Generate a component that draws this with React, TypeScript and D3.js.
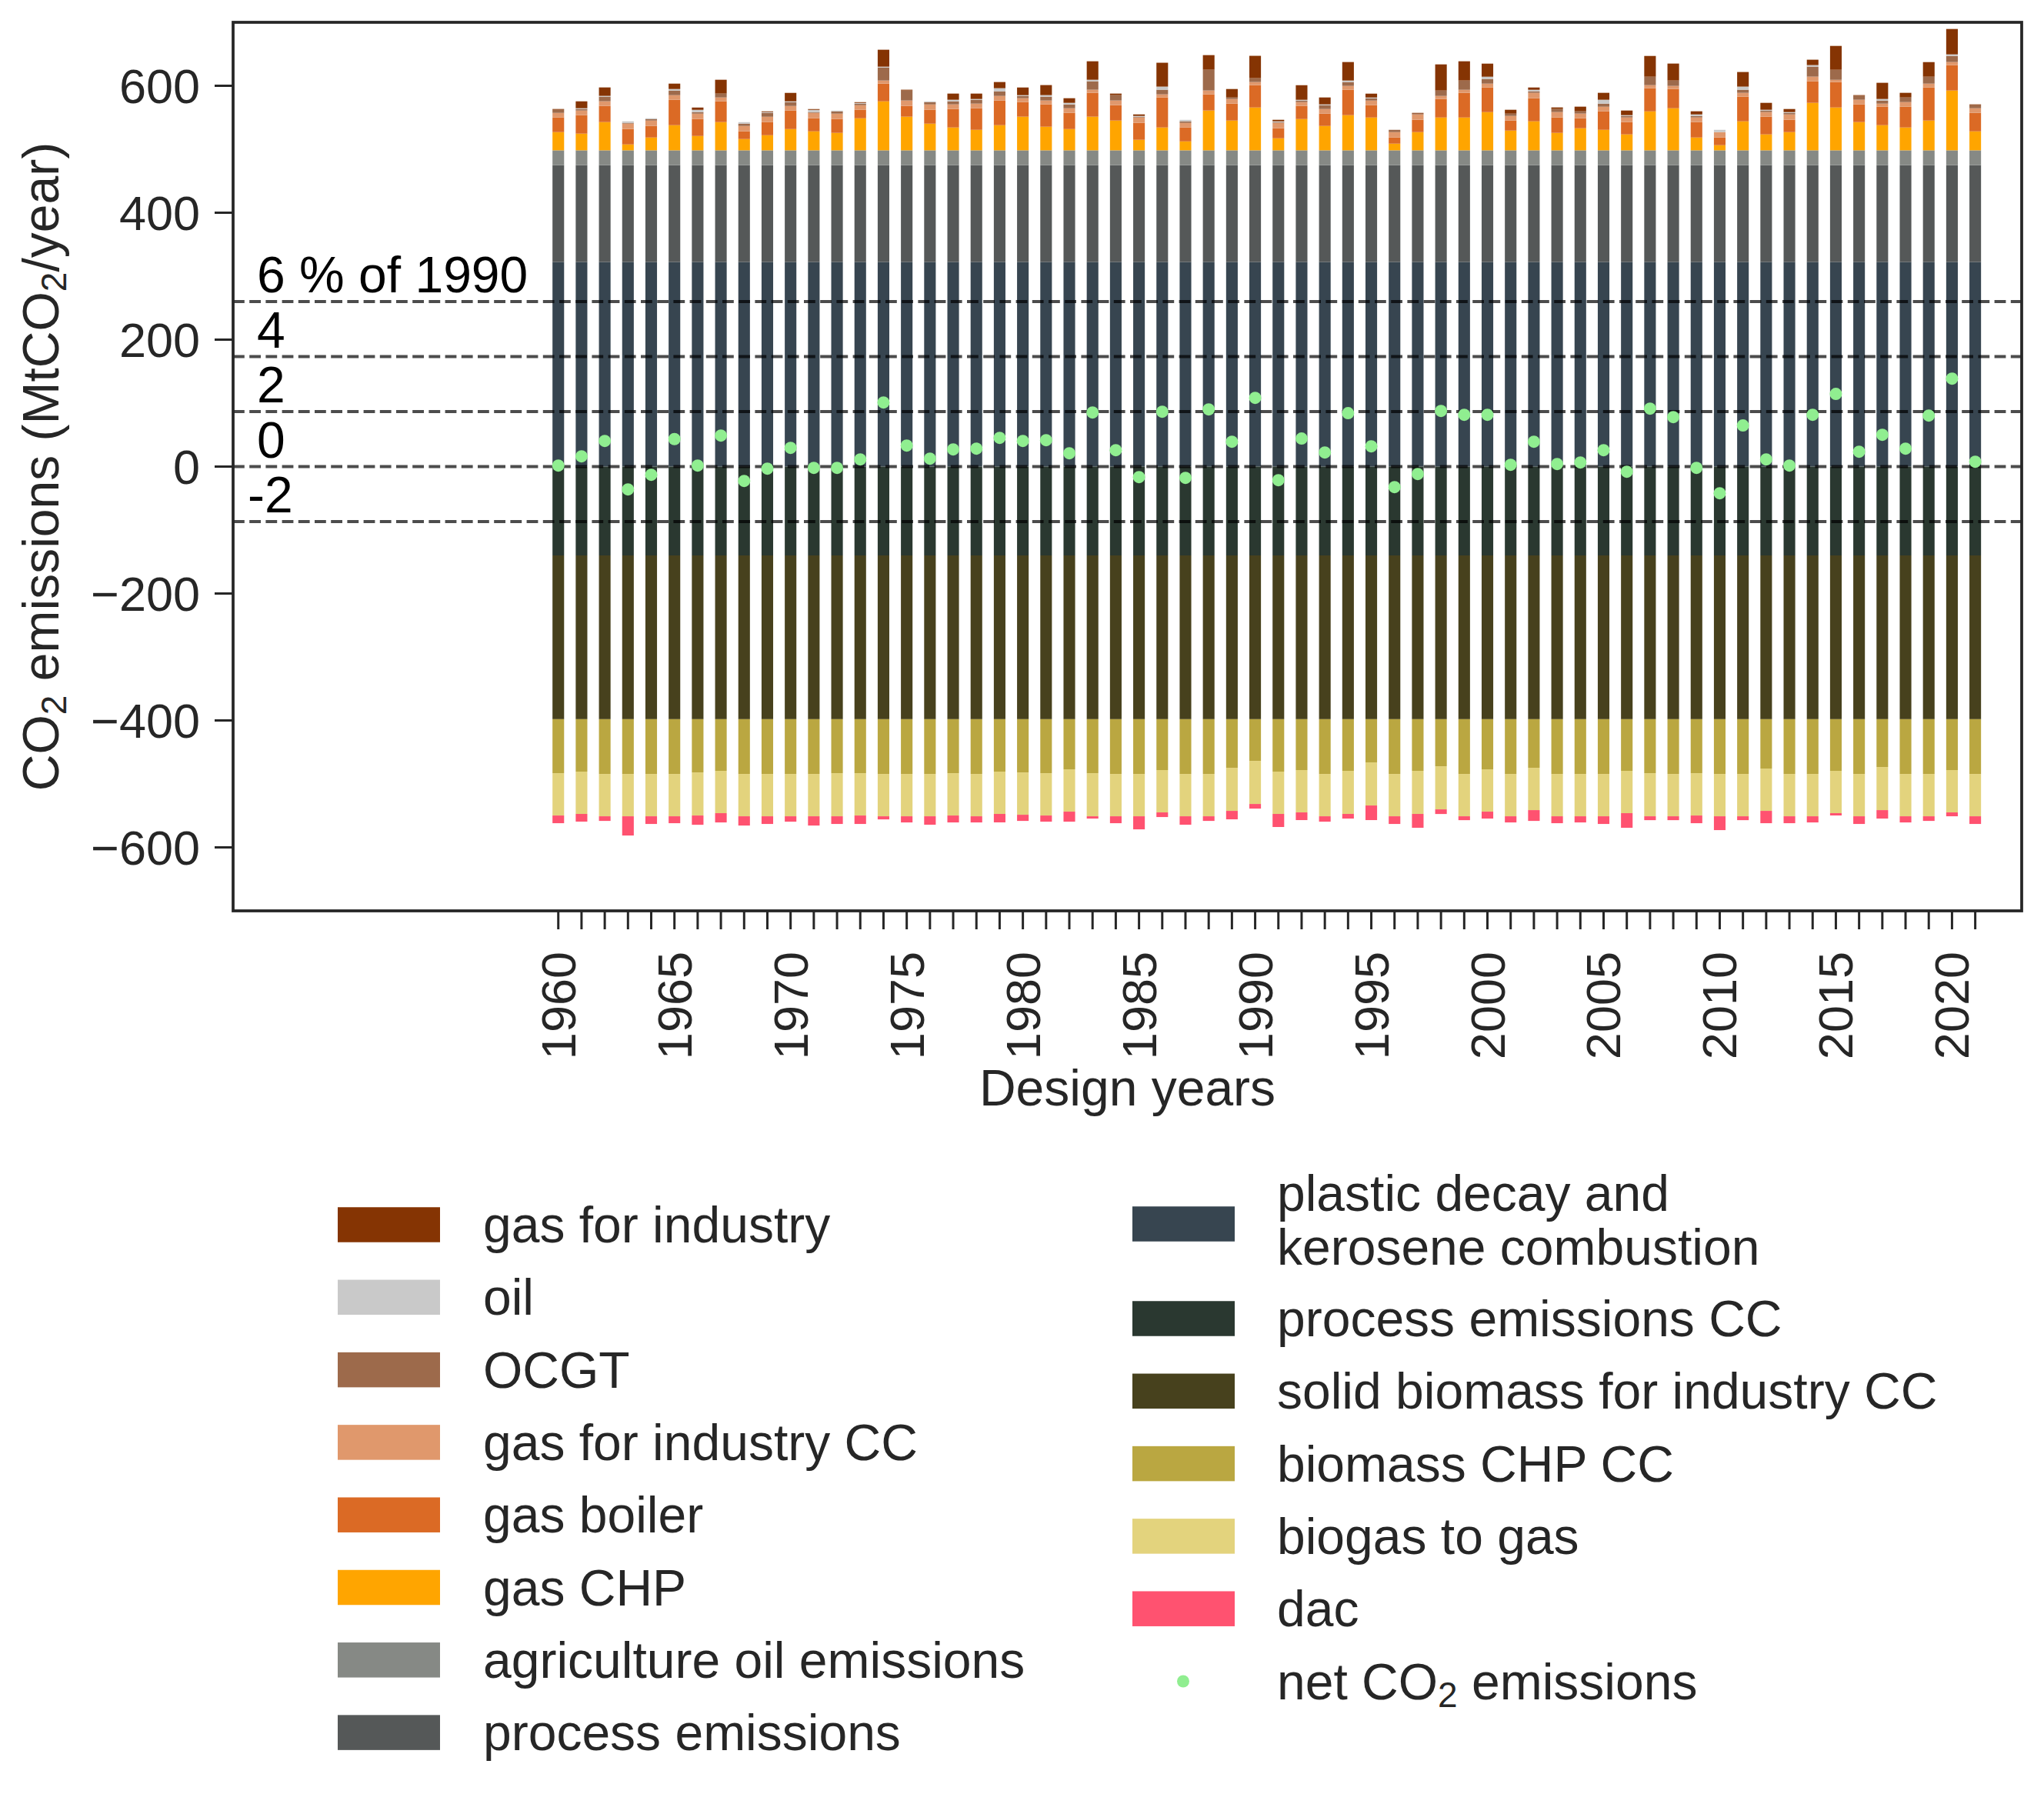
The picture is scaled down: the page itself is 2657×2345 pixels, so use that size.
import React from 'react';
import * as d3 from 'd3';

// ---------- data ----------
const years = [
  1960, 1961, 1962, 1963, 1964, 1965, 1966, 1967, 1968, 1969,
  1970, 1971, 1972, 1973, 1974, 1975, 1976, 1977, 1978, 1979,
  1980, 1981, 1982, 1983, 1984, 1985, 1986, 1987, 1988, 1989,
  1990, 1991, 1992, 1993, 1994, 1995, 1996, 1997, 1998, 1999,
  2000, 2001, 2002, 2003, 2004, 2005, 2006, 2007, 2008, 2009,
  2010, 2011, 2012, 2013, 2014, 2015, 2016, 2017, 2018, 2019,
  2020, 2021,
];

const plasticDecay = [
  322.5, 322.5, 322.5, 322.5, 322.5, 322.5, 322.5, 322.5, 322.5, 322.5,
  322.5, 322.5, 322.5, 322.5, 322.5, 322.5, 322.5, 322.5, 322.5, 322.5,
  322.5, 322.5, 322.5, 322.5, 322.5, 322.5, 322.5, 322.5, 322.5, 322.5,
  322.5, 322.5, 322.5, 322.5, 322.5, 322.5, 322.5, 322.5, 322.5, 322.5,
  322.5, 322.5, 322.5, 322.5, 322.5, 322.5, 322.5, 322.5, 322.5, 322.5,
  322.5, 322.5, 322.5, 322.5, 322.5, 322.5, 322.5, 322.5, 322.5, 322.5,
  322.5, 322.5,
];
const processEmissions = [
  152.5, 152.5, 152.5, 152.5, 152.5, 152.5, 152.5, 152.5, 152.5, 152.5,
  152.5, 152.5, 152.5, 152.5, 152.5, 152.5, 152.5, 152.5, 152.5, 152.5,
  152.5, 152.5, 152.5, 152.5, 152.5, 152.5, 152.5, 152.5, 152.5, 152.5,
  152.5, 152.5, 152.5, 152.5, 152.5, 152.5, 152.5, 152.5, 152.5, 152.5,
  152.5, 152.5, 152.5, 152.5, 152.5, 152.5, 152.5, 152.5, 152.5, 152.5,
  152.5, 152.5, 152.5, 152.5, 152.5, 152.5, 152.5, 152.5, 152.5, 152.5,
  152.5, 152.5,
];
const agricultureOil = [
  23.3, 23.3, 23.3, 23.3, 23.3, 23.3, 23.3, 23.3, 23.3, 23.3,
  23.3, 23.3, 23.3, 23.3, 23.3, 23.3, 23.3, 23.3, 23.3, 23.3,
  23.3, 23.3, 23.3, 23.3, 23.3, 23.3, 23.3, 23.3, 23.3, 23.3,
  23.3, 23.3, 23.3, 23.3, 23.3, 23.3, 23.3, 23.3, 23.3, 23.3,
  23.3, 23.3, 23.3, 23.3, 23.3, 23.3, 23.3, 23.3, 23.3, 23.3,
  23.3, 23.3, 23.3, 23.3, 23.3, 23.3, 23.3, 23.3, 23.3, 23.3,
  23.3, 23.3,
];
const gasCHP = [
  28.7, 26.3, 44.5, 9.3, 20.2, 39.6, 22.6, 44.5, 17.8, 23.8,
  33.5, 29.9, 27.5, 50.5, 77.2, 53.0, 42.0, 36.0, 32.3, 39.6,
  53.0, 37.2, 33.5, 53.0, 46.9, 16.6, 36.0, 14.1, 62.7, 46.9,
  67.5, 19.0, 49.3, 38.4, 55.4, 51.7, 10.5, 28.7, 51.7, 51.7,
  60.2, 31.1, 45.7, 27.5, 34.8, 32.3, 25.1, 61.4, 66.3, 20.2,
  8.1, 45.7, 25.1, 28.7, 74.8, 67.5, 44.5, 39.6, 36.0, 46.9,
  94.2, 29.9,
];
const gasBoiler = [
  23.0, 29.1, 25.5, 24.3, 18.2, 40.0, 26.7, 32.7, 12.1, 20.6,
  29.1, 20.6, 21.8, 13.3, 27.9, 17.0, 21.8, 29.1, 34.0, 38.8,
  23.0, 35.2, 25.5, 37.6, 24.3, 26.7, 47.3, 21.8, 25.5, 26.7,
  35.2, 15.8, 20.6, 19.4, 40.0, 19.4, 9.7, 19.4, 29.1, 38.8,
  38.8, 15.8, 36.4, 24.3, 15.8, 29.1, 19.4, 36.4, 30.3, 24.3,
  12.1, 38.8, 27.9, 19.4, 34.0, 40.0, 27.9, 29.1, 32.7, 52.1,
  40.0, 29.1,
];
const gasForIndustryCC = [
  7.3, 7.3, 7.3, 8.5, 8.5, 7.3, 8.5, 6.1, 8.5, 8.5,
  7.3, 8.5, 8.5, 7.3, 4.9, 8.5, 8.5, 7.3, 7.3, 7.3,
  6.1, 6.1, 7.3, 4.9, 7.3, 8.5, 4.9, 7.3, 6.1, 7.3,
  4.9, 8.5, 6.1, 7.3, 6.1, 7.3, 8.5, 8.5, 4.9, 4.9,
  6.1, 7.3, 8.5, 8.5, 7.3, 7.3, 7.3, 4.9, 4.9, 7.3,
  8.5, 6.1, 7.3, 8.5, 7.3, 3.6, 7.3, 4.9, 7.3, 6.1,
  4.9, 7.3,
];
const ocgt = [
  4.9, 2.4, 7.3, 1.2, 2.4, 7.3, 2.4, 6.1, 3.6, 6.1,
  6.1, 1.2, 3.6, 2.4, 20.6, 15.8, 3.6, 4.9, 6.1, 7.3,
  3.6, 6.1, 6.1, 13.3, 8.5, 1.2, 7.3, 2.4, 32.7, 2.4,
  6.1, 1.2, 2.4, 6.1, 6.1, 3.6, 3.6, 1.2, 8.5, 14.6,
  7.3, 3.6, 2.4, 4.9, 3.6, 4.9, 2.4, 13.3, 8.5, 2.4,
  0, 4.9, 2.4, 2.4, 15.8, 15.8, 6.1, 4.9, 7.3, 10.9,
  9.7, 4.9,
];
const oil = [
  0, 1.2, 1.2, 2.4, 1.2, 2.4, 3.6, 0, 2.4, 1.2,
  1.2, 3.6, 1.2, 1.2, 1.2, 0, 1.2, 2.4, 1.2, 4.9,
  1.2, 2.4, 2.4, 2.4, 0, 1.2, 4.9, 2.4, 0, 0,
  0, 1.2, 1.2, 1.2, 2.4, 1.2, 0, 0, 0, 0,
  3.6, 0, 2.4, 0, 0, 6.1, 1.2, 0, 0, 2.4,
  3.6, 4.9, 1.2, 1.2, 2.4, 0, 0, 2.4, 0, 0,
  2.4, 0,
];
const gasForIndustry = [
  1.2, 10.9, 13.3, 0, 0, 8.5, 3.6, 21.8, 0, 1.2,
  13.3, 1.2, 0, 1.2, 26.7, 1.2, 0, 9.7, 8.5, 9.7,
  12.1, 15.8, 7.3, 29.1, 2.4, 2.4, 37.6, 0, 23.0, 13.3,
  35.2, 2.4, 23.0, 10.9, 29.1, 6.1, 0, 1.2, 41.2, 30.3,
  20.6, 6.1, 3.6, 2.4, 7.3, 10.9, 7.3, 32.7, 26.7, 4.9,
  0, 23.0, 10.9, 4.9, 8.5, 37.6, 1.2, 25.5, 7.3, 23.0,
  40.0, 1.2,
];
const processEmissionsCC = [
  -140, -140, -140, -140, -140, -140, -140, -140, -140, -140,
  -140, -140, -140, -140, -140, -140, -140, -140, -140, -140,
  -140, -140, -140, -140, -140, -140, -140, -140, -140, -140,
  -140, -140, -140, -140, -140, -140, -140, -140, -140, -140,
  -140, -140, -140, -140, -140, -140, -140, -140, -140, -140,
  -140, -140, -140, -140, -140, -140, -140, -140, -140, -140,
  -140, -140,
];
const solidBiomassIndustryCC = [
  -258, -258, -258, -258, -258, -258, -258, -258, -258, -258,
  -258, -258, -258, -258, -258, -258, -258, -258, -258, -258,
  -258, -258, -258, -258, -258, -258, -258, -258, -258, -258,
  -258, -258, -258, -258, -258, -258, -258, -258, -258, -258,
  -258, -258, -258, -258, -258, -258, -258, -258, -258, -258,
  -258, -258, -258, -258, -258, -258, -258, -258, -258, -258,
  -258, -258,
];
const biomassCHPCC = [
  -85.1, -82.6, -86.3, -86.3, -86.3, -86.3, -83.9, -81.4, -86.3, -86.3,
  -86.3, -86.3, -85.1, -85.1, -86.3, -86.3, -86.3, -85.1, -86.3, -82.6,
  -83.9, -85.1, -79.0, -85.1, -86.3, -86.3, -80.2, -86.3, -86.3, -76.6,
  -65.7, -82.6, -80.2, -86.3, -81.4, -68.1, -86.3, -81.4, -74.2, -86.3,
  -79.0, -86.3, -76.6, -86.3, -86.3, -86.3, -81.4, -85.1, -86.3, -85.1,
  -86.3, -86.3, -77.8, -86.3, -86.3, -81.4, -86.3, -75.4, -86.3, -86.3,
  -80.2, -86.3,
];
const biogasToGas = [
  -66.7, -66.7, -66.7, -66.7, -66.7, -66.7, -67.9, -66.7, -66.7, -66.7,
  -66.7, -66.7, -67.9, -66.7, -66.7, -66.7, -66.7, -66.7, -66.7, -66.7,
  -66.7, -66.7, -66.7, -67.9, -66.7, -66.7, -66.7, -66.7, -66.7, -67.9,
  -67.9, -66.7, -66.7, -66.7, -67.9, -67.9, -66.7, -67.9, -67.9, -66.7,
  -66.7, -66.7, -66.7, -66.7, -66.7, -66.7, -66.7, -67.9, -66.7, -66.7,
  -66.7, -66.7, -66.7, -66.7, -66.7, -66.7, -66.7, -67.9, -66.7, -66.7,
  -66.7, -66.7,
];
const dac = [
  -12.1, -12.1, -7.3, -30.3, -12.1, -10.9, -14.6, -14.6, -14.6, -12.1,
  -8.5, -14.6, -12.1, -13.3, -4.9, -9.7, -13.3, -10.9, -9.7, -13.3,
  -9.7, -9.7, -15.8, -3.6, -10.9, -20.6, -7.3, -13.3, -7.3, -13.3,
  -7.3, -20.6, -12.1, -8.5, -7.3, -23.0, -12.1, -21.8, -7.3, -6.1,
  -10.9, -9.7, -17.0, -10.9, -9.7, -12.1, -23.0, -6.1, -6.1, -12.1,
  -21.8, -6.1, -19.4, -10.9, -9.7, -3.6, -12.1, -13.3, -9.7, -7.3,
  -6.1, -12.1,
];
const netCO2 = [
  1.6, 16.2, 40.4, -36.0, -12.9, 43.3, 1.6, 48.9, -22.6, -3.2,
  29.5, -2.0, -2.0, 11.3, 101.0, 33.1, 12.5, 27.1, 28.3, 45.3,
  40.4, 41.6, 21.0, 85.3, 25.9, -16.6, 86.5, -17.8, 90.1, 39.2,
  108.3, -21.4, 44.1, 22.2, 84.1, 31.9, -32.3, -11.7, 87.7, 81.6,
  81.6, 2.8, 39.2, 4.0, 6.5, 25.9, -8.1, 91.3, 78.0, -2.0,
  -42.0, 64.7, 11.3, 1.6, 81.6, 114.4, 23.4, 50.1, 28.3, 80.4,
  138.6, 7.7,
];

const refLevels = [260, 173.3, 86.7, 0, -86.7];
const refLabels = ['6 % of 1990', '4', '2', '0', '-2'];
const yTicks = [-600, -400, -200, 0, 200, 400, 600];
const xLabelYears = [1960, 1965, 1970, 1975, 1980, 1985, 1990, 1995, 2000, 2005, 2010, 2015, 2020];

// stacking order (positives upward, negatives downward)
const series = [
  { key: 'plastic decay and kerosene combustion', values: plasticDecay, color: '#374550' },
  { key: 'process emissions', values: processEmissions, color: '#555858' },
  { key: 'agriculture oil emissions', values: agricultureOil, color: '#868985' },
  { key: 'gas CHP', values: gasCHP, color: '#ffa500' },
  { key: 'gas boiler', values: gasBoiler, color: '#db6a25' },
  { key: 'gas for industry CC', values: gasForIndustryCC, color: '#e0986c' },
  { key: 'OCGT', values: ocgt, color: '#9d6a4b' },
  { key: 'oil', values: oil, color: '#c9c9c9' },
  { key: 'gas for industry', values: gasForIndustry, color: '#853403' },
  { key: 'process emissions CC', values: processEmissionsCC, color: '#2a3830' },
  { key: 'solid biomass for industry CC', values: solidBiomassIndustryCC, color: '#47411d' },
  { key: 'biomass CHP CC', values: biomassCHPCC, color: '#baa741' },
  { key: 'biogas to gas', values: biogasToGas, color: '#e3d37d' },
  { key: 'dac', values: dac, color: '#ff5270' },
];

const legendCol1 = ['gas for industry', 'oil', 'OCGT', 'gas for industry CC', 'gas boiler', 'gas CHP', 'agriculture oil emissions', 'process emissions'];
const legendCol2 = ['process emissions CC', 'solid biomass for industry CC', 'biomass CHP CC', 'biogas to gas', 'dac'];

const FONT = '"Liberation Sans", Arial, Helvetica, sans-serif';
const TXT = '#262626';

export default function App() {
  const W = 2657;
  const H = 2345;
  const left = 303, right = 2628, top = 29, bottom = 1184;

  const x = d3.scaleLinear().domain([1946, 2023]).range([left, right]);
  const y = d3.scaleLinear().domain([-700, 700]).range([bottom, top]);

  const keys = series.map((s) => s.key);
  const table = years.map((yr, i) => {
    const row: any = { year: yr };
    series.forEach((s) => { row[s.key] = s.values[i]; });
    return row;
  });
  const stacked = d3.stack().keys(keys).order(d3.stackOrderNone).offset(d3.stackOffsetDiverging)(table as any);
  const colorOf: Record<string, string> = {};
  series.forEach((s) => { colorOf[s.key] = s.color; });

  const barW = x(0.5) - x(0);
  const fs = 66;
  const tickFs = 63;
  const subFs = 46;
  const subShift = -10;

  const col1X = 439, col1Text = 628, col1Y0 = 1592, rowH = 94.3;
  const col2X = 1472, col2Text = 1660;
  const swW = 133, swH = 45.5;

  return (
    <svg width={W} height={H} viewBox={`0 0 ${W} ${H}`} style={{ position: 'absolute', left: 0, top: 0, background: '#fff' }} fontFamily={FONT}>
      <rect x={0} y={0} width={W} height={H} fill="#fff" />
      {/* bars */}
      <g>
        {stacked.map((layer: any) => (
          <g key={layer.key} fill={colorOf[layer.key]}>
            {layer.map((d: any, i: number) => {
              const y0 = y(d[0]);
              const y1 = y(d[1]);
              const h = Math.abs(y0 - y1);
              if (h <= 0) return null;
              return <rect key={i} x={x(years[i]) - barW / 2} y={Math.min(y0, y1)} width={barW} height={h} />;
            })}
          </g>
        ))}
      </g>
      {/* reference lines */}
      {refLevels.map((v, i) => (
        <line key={'rl' + i} x1={left} x2={right} y1={y(v)} y2={y(v)} stroke="#000" strokeOpacity={0.7} strokeWidth={4} strokeDasharray="14.8 6.4" />
      ))}
      {refLevels.map((v, i) => (
        <text key={'rt' + i} x={refLabels[i].startsWith('-') ? 322 : 334} y={y(v) - 12} fontSize={fs} fill="#000">{refLabels[i]}</text>
      ))}
      {/* net dots */}
      {netCO2.map((v, i) => (
        <circle key={'n' + i} cx={x(years[i])} cy={y(v)} r={8} fill="#90ee90" />
      ))}
      {/* frame */}
      <rect x={left} y={top} width={right - left} height={bottom - top} fill="none" stroke={TXT} strokeWidth={3.75} />
      {/* y ticks */}
      {yTicks.map((t) => (
        <g key={'yt' + t}>
          <line x1={left - 24} x2={left} y1={y(t)} y2={y(t)} stroke={TXT} strokeWidth={3} />
          <text x={260} y={y(t)} textAnchor="end" dominantBaseline="central" fontSize={tickFs} fill={TXT}>
            {t < 0 ? '\u2212' + Math.abs(t) : String(t)}
          </text>
        </g>
      ))}
      {/* x ticks */}
      {years.map((yr) => (
        <line key={'xt' + yr} x1={x(yr)} x2={x(yr)} y1={bottom} y2={bottom + 24} stroke={TXT} strokeWidth={3} />
      ))}
      {xLabelYears.map((yr) => (
        <text key={'xl' + yr} transform={`translate(${x(yr)},${1237}) rotate(-90)`} textAnchor="end" dominantBaseline="central" fontSize={tickFs} fill={TXT}>
          {String(yr)}
        </text>
      ))}
      {/* axis labels */}
      <text x={(left + right) / 2} y={1437} textAnchor="middle" fontSize={fs} fill={TXT}>Design years</text>
      <text transform={`translate(76,${(top + bottom) / 2}) rotate(-90)`} textAnchor="middle" fontSize={fs} fill={TXT}>
        CO<tspan baselineShift={subShift} fontSize={subFs}>2</tspan> emissions (MtCO<tspan baselineShift={subShift} fontSize={subFs}>2</tspan>/year)
      </text>
      {/* legend column 1 */}
      {legendCol1.map((k, i) => {
        const cy = col1Y0 + i * rowH;
        return (
          <g key={'lg1' + k}>
            <rect x={col1X} y={cy - swH / 2} width={swW} height={swH} fill={colorOf[k]} />
            <text x={col1Text} y={cy + 23} fontSize={fs} fill={TXT}>{k}</text>
          </g>
        );
      })}
      {/* legend column 2 */}
      <rect x={col2X} y={1591 - swH / 2} width={swW} height={swH} fill={colorOf['plastic decay and kerosene combustion']} />
      <text x={col2Text} y={1574} fontSize={fs} fill={TXT}>plastic decay and</text>
      <text x={col2Text} y={1644} fontSize={fs} fill={TXT}>kerosene combustion</text>
      {legendCol2.map((k, i) => {
        const cy = 1714 + i * rowH;
        return (
          <g key={'lg2' + k}>
            <rect x={col2X} y={cy - swH / 2} width={swW} height={swH} fill={colorOf[k]} />
            <text x={col2Text} y={cy + 23} fontSize={fs} fill={TXT}>{k}</text>
          </g>
        );
      })}
      <circle cx={1538} cy={1714 + 5 * rowH} r={8} fill="#90ee90" />
      <text x={col2Text} y={1714 + 5 * rowH + 23} fontSize={fs} fill={TXT}>
        net CO<tspan baselineShift={subShift} fontSize={subFs}>2</tspan> emissions
      </text>
    </svg>
  );
}
